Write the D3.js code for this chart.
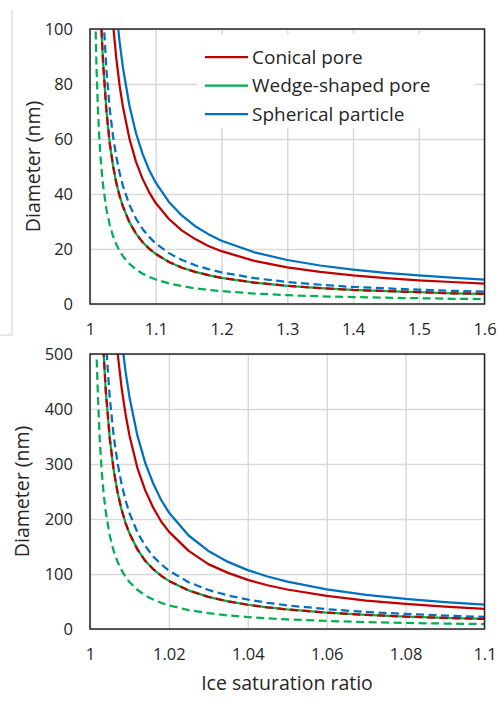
<!DOCTYPE html>
<html><head><meta charset="utf-8">
<script src="https://cdn.jsdelivr.net/npm/d3@7"></script>
<style>body{margin:0;background:#fff}svg{display:block}text{font-family:"Open Sans","Noto Sans",sans-serif;fill:#262626}</style>
</head><body>
<script>
// Ice saturation ratio grid
const ratio = [1.0017,1.002,1.0025,1.003,1.0035,1.004,1.005,1.006,1.007,1.008,1.009,1.01,1.012,1.014,1.016,1.018,1.02,1.025,1.03,1.035,1.04,1.045,1.05,1.06,1.07,1.08,1.09,1.1,1.12,1.14,1.16,1.18,1.2,1.25,1.3,1.35,1.4,1.45,1.5,1.55,1.6];
// Diameter (nm), solid curves
const sphericalSolid = [null,null,null,null,null,null,null,null,null,527,469,422,352,302,265,235,212,170,142,122,107,95.4,86.1,72.1,62.1,54.6,48.7,44.1,37.1,32.1,28.3,25.4,23.0,18.8,16.0,14.0,12.5,11.3,10.4,9.6,8.9];
const conicalSolid = [null,null,null,null,null,null,null,585,502,439,391,352,293,252,221,196,177,142,118,102,89.3,79.5,71.8,60.1,51.7,45.5,40.6,36.7,30.9,26.7,23.6,21.1,19.2,15.7,13.3,11.7,10.4,9.4,8.6,8.0,7.4];
const wedgeSolid = [null,null,null,577,495,433,347,289,248,217,193,174,145,124,109,97.0,87.4,70.1,58.5,50.3,44.1,39.3,35.5,29.7,25.6,22.5,20.1,18.2,15.3,13.2,11.7,10.5,9.5,7.8,6.6,5.8,5.1,4.7,4.3,3.9,3.7];
// Diameter (nm), dashed curves
const sphericalDashed = [null,null,null,null,null,526,421,351,301,264,234,211,176,151,132,118,106,85.1,71.0,61.0,53.6,47.7,43.0,36.0,31.0,27.3,24.4,22.0,18.5,16.0,14.1,12.7,11.5,9.4,8.0,7.0,6.2,5.7,5.2,4.8,4.5];
const conicalDashed = [null,null,null,577,495,433,347,289,248,217,193,174,145,124,109,97.0,87.4,70.1,58.5,50.3,44.1,39.3,35.5,29.7,25.6,22.5,20.1,18.2,15.3,13.2,11.7,10.5,9.5,7.8,6.6,5.8,5.1,4.7,4.3,3.9,3.7];
const wedgeDashed = [490,425,340,284,243,213,170,142,122,107,94.9,85.4,71.3,61.1,53.6,47.6,42.9,34.4,28.8,24.7,21.7,19.3,17.4,14.6,12.6,11.0,9.9,8.9,7.5,6.5,5.7,5.1,4.7,3.8,3.2,2.8,2.5,2.3,2.1,1.9,1.8];

const legendLabels = ["Conical pore","Wedge-shaped pore","Spherical particle"];
const topXTicks = [1,1.1,1.2,1.3,1.4,1.5,1.6];
const topYTicks = [0,20,40,60,80,100];
const botXTicks = [1,1.02,1.04,1.06,1.08,1.1];
const botYTicks = [0,100,200,300,400,500];
const xTitle = "Ice saturation ratio";
const yTitle = "Diameter (nm)";

const RED="#C00000", GREEN="#00B050", BLUE="#0070C0";
const series = [
  {v:wedgeSolid,c:GREEN,d:null},
  {v:conicalSolid,c:RED,d:null},
  {v:sphericalSolid,c:BLUE,d:null},
  {v:wedgeDashed,c:GREEN,d:"8,4.5"},
  {v:sphericalDashed,c:BLUE,d:"8,4.5"},
  {v:conicalDashed,c:RED,d:"8,4.5"}
];

const svg = d3.select("body").append("svg").attr("width",500).attr("height",703);

// faint frame fragment at left
svg.append("path").attr("d","M12,10V335H0").attr("fill","none").attr("stroke","#d0d0d0").attr("stroke-width",1);

function panel(id, top, xDom, yDom, xTicks, yTicks, xFmt, titleX, showXTitle, legend){
  const L=90,R=484.5,T=top,B=top+275;
  const x=d3.scaleLinear().domain(xDom).range([L,R]);
  const y=d3.scaleLinear().domain(yDom).range([B,T]);
  const g=svg.append("g");
  g.append("clipPath").attr("id",id).append("rect").attr("x",L).attr("y",T).attr("width",R-L).attr("height",B-T);
  // grid
  g.append("g").attr("transform",`translate(0,${B})`)
    .call(d3.axisBottom(x).tickValues(xTicks).tickSize(-(B-T)).tickFormat(""))
    .call(a=>{a.select(".domain").remove();a.selectAll("line").attr("stroke","#d9d9d9").attr("stroke-width",1.5);});
  g.append("g").attr("transform",`translate(${L},0)`)
    .call(d3.axisLeft(y).tickValues(yTicks).tickSize(-(R-L)).tickFormat(""))
    .call(a=>{a.select(".domain").remove();a.selectAll("line").attr("stroke","#d9d9d9").attr("stroke-width",1.5);});
  // tick labels
  g.append("g").attr("transform",`translate(0,${B+26})`)
    .call(d3.axisBottom(x).tickValues(xTicks).tickSize(0).tickPadding(0).tickFormat(xFmt))
    .call(a=>{a.select(".domain").remove();a.selectAll("text").attr("font-size",16.5).attr("dy","0.32em").style("font-family",'"Open Sans","Noto Sans",sans-serif').attr("fill","#262626");});
  g.append("g").attr("transform",`translate(${L-17},0)`)
    .call(d3.axisLeft(y).tickValues(yTicks).tickSize(0).tickPadding(0))
    .call(a=>{a.select(".domain").remove();a.selectAll("text").attr("font-size",16.5).style("font-family",'"Open Sans","Noto Sans",sans-serif').attr("fill","#262626");});
  // legend box
  if(legend){
    const lg=g.append("g");
    lg.append("rect").attr("x",197).attr("y",34).attr("width",278).attr("height",94).attr("fill","#fff");
    const cols=[RED,GREEN,BLUE];
    legendLabels.forEach((t,i)=>{
      const yy=57+i*28.5;
      lg.append("line").attr("x1",205).attr("x2",248).attr("y1",yy).attr("y2",yy).attr("stroke",cols[i]).attr("stroke-width",2.25);
      lg.append("text").attr("x",252).attr("y",yy).attr("dy","0.35em").attr("font-size",19).text(t);
    });
  }
  // curves
  const line=d3.line().defined((d,i)=>d!=null).x((d,i)=>x(ratio[i])).y(d=>y(d));
  const cg=g.append("g").attr("clip-path",`url(#${id})`);
  series.forEach(s=>{
    cg.append("path").attr("d",line(s.v)).attr("fill","none").attr("stroke",s.c).attr("stroke-width",2.25)
      .attr("stroke-dasharray",s.d).attr("stroke-linejoin","round");
  });
  // frame
  g.append("rect").attr("x",L).attr("y",T).attr("width",R-L).attr("height",B-T).attr("fill","none").attr("stroke","#262626").attr("stroke-width",1.5);
  // y title
  g.append("text").attr("transform",`translate(${titleX},${(T+B)/2}) rotate(-90)`).attr("text-anchor","middle").attr("dy","0.35em").attr("font-size",19.5).text(yTitle);
  if(showXTitle){
    g.append("text").attr("x",287).attr("y",683).attr("text-anchor","middle").attr("dy","0.35em").attr("font-size",19.5).text(xTitle);
  }
}
panel("clipTop",29,[1,1.6],[0,100],topXTicks,topYTicks,d3.format("~g"),33,false,true);
panel("clipBot",354,[1,1.1],[0,500],botXTicks,botYTicks,d3.format("~g"),22,true,false);
</script>
</body></html>
